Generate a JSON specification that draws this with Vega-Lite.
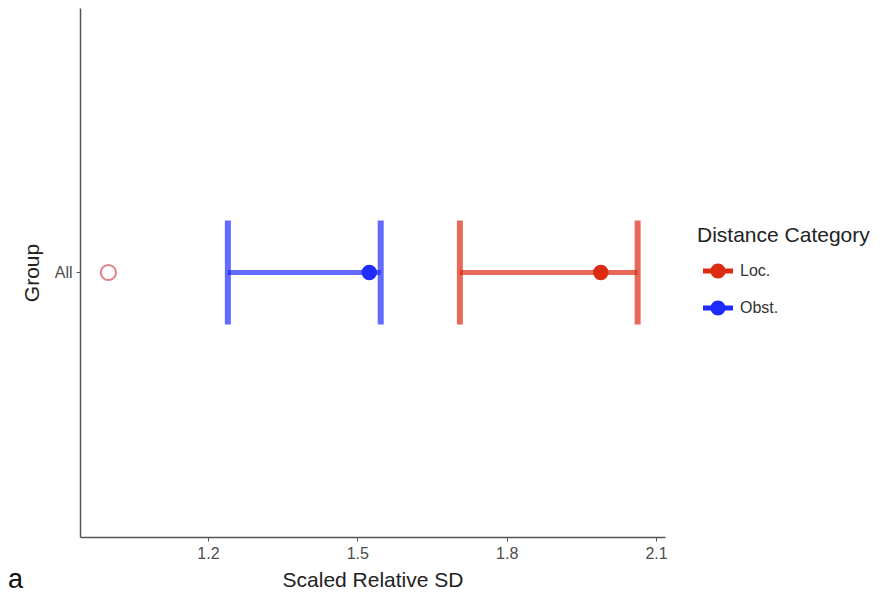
{
  "$schema": "https://vega.github.io/schema/vega-lite/v6.json",
  "width": 585,
  "height": 529,
  "autosize": "none",
  "padding": {"left": 80, "top": 8, "right": 231, "bottom": 61},
  "background": "white",
  "config": {
    "font": "Liberation Sans",
    "view": {"stroke": null},
    "axis": {"grid": false, "domainColor": "#555", "domainWidth": 1.5, "tickColor": "#555", "tickSize": 4, "labelColor": "#4d4d4d", "labelFontSize": 16, "labelFontWeight": "normal", "titleFontSize": 21, "titleFontWeight": "normal", "titleColor": "#222"}
  },
  "title": {"text": "a", "orient": "bottom", "anchor": "start", "frame": "group", "fontSize": 27, "fontWeight": "normal", "color": "#111", "dx": -72, "offset": -23},
  "datasets": {
    "ci": [
      {"Group": "All", "Distance Category": "Loc.", "lo": 1.706, "hi": 2.063, "est": 1.989},
      {"Group": "All", "Distance Category": "Obst.", "lo": 1.240, "hi": 1.547, "est": 1.524}
    ],
    "ref": [
      {"Group": "All", "Distance Category": "Loc.", "value": 1.0}
    ]
  },
  "layer": [
    {
      "data": {"name": "ci"},
      "mark": {"type": "rule", "strokeWidth": 5, "opacity": 0.7},
      "encoding": {
        "y": {"field": "Group", "type": "nominal", "title": "Group", "axis": {"labelPadding": 4, "titleAngle": -90, "titlePadding": 12}},
        "x": {"field": "lo", "type": "quantitative", "title": "Scaled Relative SD", "scale": {"domain": [0.943, 2.118], "nice": false, "zero": false}, "axis": {"values": [1.2, 1.5, 1.8, 2.1], "format": ".1f", "titlePadding": 8, "labelPadding": 4}},
        "x2": {"field": "hi"},
        "color": {"field": "Distance Category", "type": "nominal", "title": "Distance Category", "scale": {"domain": ["Loc.", "Obst."], "range": ["#dd2a12", "#1f2bff"]},
          "legend": {"orient": "none", "legendX": 617, "legendY": 217, "padding": 0, "titleFontSize": 21, "titleFontWeight": "normal", "titleColor": "#222", "labelFontSize": 16, "labelColor": "#333", "symbolType": "M-1,-0.17H1V0.17H-1Z M0.5,0A0.5,0.5 0 1,1 -0.5,0A0.5,0.5 0 1,1 0.5,0Z", "symbolSize": 900, "symbolStrokeWidth": 0, "symbolOpacity": 1, "symbolOffset": 6, "rowPadding": 14, "titlePadding": 10, "labelOffset": 7,
            "encode": {"symbols": {"update": {"opacity": {"value": 1}, "fillOpacity": {"value": 1}}}}}}
      }
    },
    {
      "data": {"name": "ci"},
      "mark": {"type": "tick", "thickness": 6, "size": 104, "opacity": 0.7},
      "encoding": {
        "y": {"field": "Group", "type": "nominal"},
        "x": {"field": "lo", "type": "quantitative"},
        "color": {"field": "Distance Category", "type": "nominal"}
      }
    },
    {
      "data": {"name": "ci"},
      "mark": {"type": "tick", "thickness": 6, "size": 104, "opacity": 0.7},
      "encoding": {
        "y": {"field": "Group", "type": "nominal"},
        "x": {"field": "hi", "type": "quantitative"},
        "color": {"field": "Distance Category", "type": "nominal"}
      }
    },
    {
      "data": {"name": "ci"},
      "mark": {"type": "point", "filled": true, "size": 240, "opacity": 1},
      "encoding": {
        "y": {"field": "Group", "type": "nominal"},
        "x": {"field": "est", "type": "quantitative"},
        "color": {"field": "Distance Category", "type": "nominal"}
      }
    },
    {
      "data": {"name": "ref"},
      "mark": {"type": "point", "filled": false, "size": 230, "strokeWidth": 2, "color": "#d64a55"},
      "encoding": {
        "y": {"field": "Group", "type": "nominal"},
        "x": {"field": "value", "type": "quantitative"}
      }
    }
  ]
}
